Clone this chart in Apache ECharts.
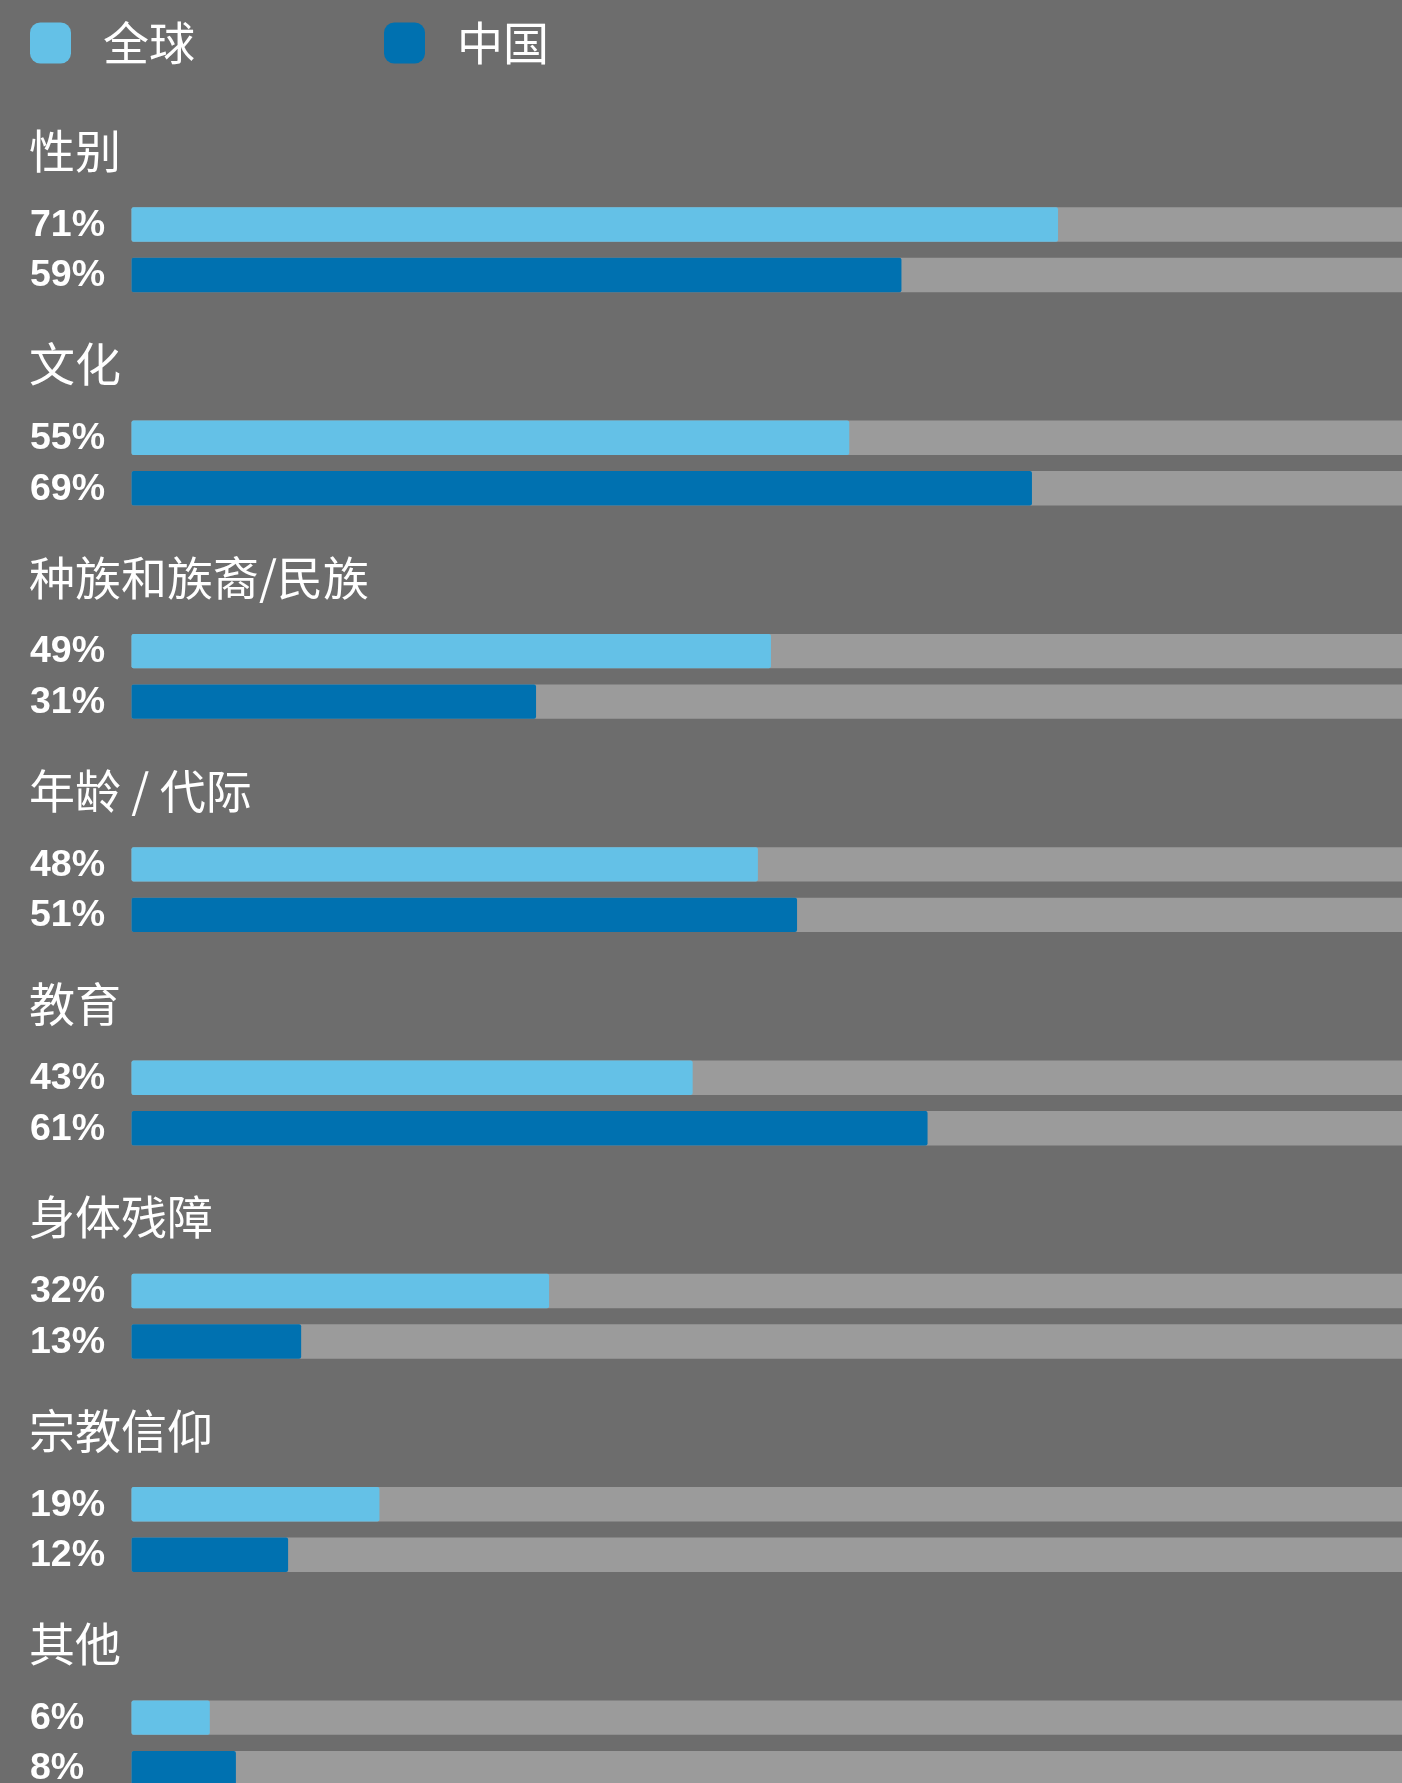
<!DOCTYPE html>
<html>
<head>
<meta charset="utf-8">
<script src="https://cdn.jsdelivr.net/npm/echarts@6/dist/echarts.min.js"></script>
<style>
  html, body { margin: 0; padding: 0; background: #6d6d6d; }
  #chart { width: 1402px; height: 1783px; }
</style>
</head>
<body>
<div id="chart"></div>
<script>
// Legend / series names
const seriesNames = ['全球', '中国'];

// Dimension groups, top to bottom
const categories = ['性别', '文化', '种族和族裔/民族', '年龄 / 代际', '教育', '身体残障', '宗教信仰', '其他'];

// Share of respondents (%)
const globalValues = [71, 55, 49, 48, 43, 32, 19, 6];
const chinaValues  = [59, 69, 31, 51, 61, 13, 12, 8];

// Styling and layout
const COLORS = ['#64c1e7', '#0071b0'];
const TRACK = '#9b9b9b';
const BG = '#6d6d6d';
const CJK_FONT = '"Noto Sans CJK SC", "Noto Sans", sans-serif';
const NUM_FONT = '"Liberation Sans", Arial, sans-serif';
const GROUP_PITCH = 213.3;     // distance between consecutive groups
const FIRST_ROW_CENTER = 224.5; // centre of the first bar
const ROW_PITCH = 50.5;        // distance between the two bars of a group
const BAR_HEIGHT = 34.4;
const PLOT_LEFT = 131.5;
const PLOT_WIDTH = 1305;       // 0..100 %, runs past the right edge of the canvas
const AXIS_MAX = 100;

// One row: grey track across the full scale, coloured bar up to the value,
// and the value label at the left margin.
function renderRow(params, api) {
  const value = api.value(0);
  const row = api.value(1);
  const start = api.coord([0, row]);
  const end = api.coord([value, row]);
  const full = api.coord([AXIS_MAX, row]);
  const y = start[1] - BAR_HEIGHT / 2;
  return {
    type: 'group',
    children: [
      {
        type: 'rect',
        shape: { x: start[0], y: y, width: full[0] - start[0], height: BAR_HEIGHT, r: 2 },
        style: { fill: TRACK }
      },
      {
        type: 'rect',
        shape: { x: start[0], y: y, width: end[0] - start[0], height: BAR_HEIGHT, r: 2 },
        style: { fill: api.visual('color') }
      },
      {
        type: 'text',
        style: {
          text: value + '%',
          x: 30,
          y: start[1] + 1,
          fill: '#ffffff',
          fontSize: 37.5,
          fontWeight: 'bold',
          fontFamily: NUM_FONT,
          align: 'left',
          verticalAlign: 'middle'
        }
      }
    ]
  };
}

const grids = [], xAxes = [], yAxes = [], titles = [], series = [];

categories.forEach((name, i) => {
  const top = FIRST_ROW_CENTER + i * GROUP_PITCH;
  // grid spans from the centre of the first bar to the centre of the second
  grids.push({ left: PLOT_LEFT, top: top, width: PLOT_WIDTH, height: ROW_PITCH, outerBoundsMode: 'none' });
  xAxes.push({ type: 'value', gridIndex: i, min: 0, max: AXIS_MAX, show: false });
  yAxes.push({ type: 'category', gridIndex: i, data: seriesNames, inverse: true, boundaryGap: false, show: false });
  titles.push({
    text: name,
    left: 29,
    top: top - 97,
    padding: 0,
    textStyle: { color: '#ffffff', fontSize: 46, fontWeight: 'normal', fontFamily: CJK_FONT }
  });
  [globalValues[i], chinaValues[i]].forEach((v, k) => {
    series.push({
      type: 'custom',
      name: seriesNames[k],
      xAxisIndex: i,
      yAxisIndex: i,
      clip: false,
      silent: true,
      itemStyle: { color: COLORS[k] },
      data: [[v, k]],
      renderItem: renderRow
    });
  });
});

const chart = echarts.init(document.getElementById('chart'), null, { renderer: 'canvas' });
chart.setOption({
  backgroundColor: BG,
  animation: false,
  title: titles,
  legend: {
    data: seriesNames,
    left: 30,
    top: 20,
    padding: 0,
    itemWidth: 41,
    itemHeight: 41,
    itemGap: 189,
    icon: 'roundRect',
    selectedMode: false,
    textStyle: { color: '#ffffff', fontSize: 46, fontFamily: CJK_FONT, padding: [0, 0, 0, 27] }
  },
  grid: grids,
  xAxis: xAxes,
  yAxis: yAxes,
  series: series
});
</script>
</body>
</html>
